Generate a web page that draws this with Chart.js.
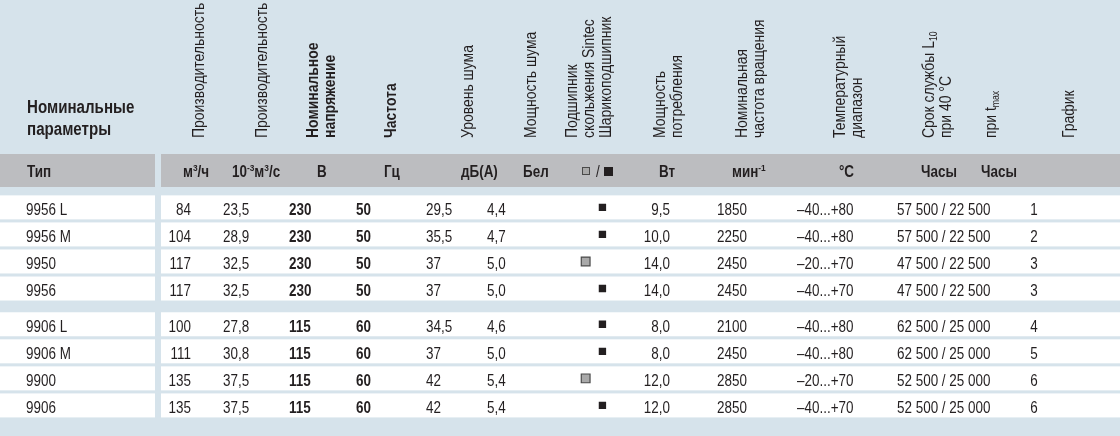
<!DOCTYPE html>
<html>
<head>
<meta charset="utf-8">
<script src="https://cdn.jsdelivr.net/npm/chart.js@4/dist/chart.umd.min.js"></script>
<style>
  html, body { margin: 0; padding: 0; background: #d6e3eb; }
  canvas { display: block; }
</style>
</head>
<body>
<canvas id="table" width="1120" height="436"></canvas>
<script>
'use strict';

// table data
const types = ['9956 L', '9956 M', '9950', '9956', '9906 L', '9906 M', '9900', '9906'];
const flowM3h = [84, 104, 117, 117, 100, 111, 135, 135];
const flowM3s = [23.5, 28.9, 32.5, 32.5, 27.8, 30.8, 37.5, 37.5];
const voltage = [230, 230, 230, 230, 115, 115, 115, 115];
const frequency = [50, 50, 50, 50, 60, 60, 60, 60];
const noiseLevel = [29.5, 35.5, 37, 37, 34.5, 37, 42, 42];
const noisePower = [4.4, 4.7, 5.0, 5.0, 4.6, 5.0, 5.4, 5.4];
const bearing = ['ball', 'ball', 'sleeve', 'ball', 'ball', 'ball', 'sleeve', 'ball'];
const powerW = [9.5, 10.0, 14.0, 14.0, 8.0, 8.0, 12.0, 12.0];
const speed = [1850, 2250, 2450, 2450, 2100, 2450, 2850, 2850];
const tempMin = [-40, -40, -20, -40, -40, -40, -20, -40];
const tempMax = [80, 80, 70, 70, 80, 80, 70, 70];
const life40 = [57500, 57500, 47500, 47500, 62500, 62500, 52500, 52500];
const lifeTmax = [22500, 22500, 22500, 22500, 25000, 25000, 25000, 25000];
const curve = [1, 2, 3, 3, 4, 5, 6, 6];
const groupSize = 4;

// header texts
const titleLines = ['Номинальные', 'параметры'];
const typeLabel = 'Тип';
const headers = [
    { lines: [['Производительность']] },
    { lines: [['Производительность']] },
    { lines: [['Номинальное'], ['напряжение']], bold: true },
    { lines: [['Частота']], bold: true },
    { lines: [['Уровень шума']] },
    { lines: [['Мощность шума']] },
    { lines: [['Подшипник'], ['скольжения Sintec'], ['Шарикоподшипник']] },
    { lines: [['Мощность'], ['потребления']] },
    { lines: [['Номинальная'], ['частота вращения']] },
    { lines: [['Температурный'], ['диапазон']] },
    { lines: [['Срок службы L', { t: '10', sub: true }], ['при 40 °C']] },
    { lines: [['при t', { t: 'max', sub: true }]] },
    { lines: [['График']] },
];
const units = [
    ['м', { t: '3', sup: true }, '/ч'],
    ['10', { t: '-3', sup: true }, 'м', { t: '3', sup: true }, '/с'],
    ['В'], ['Гц'], ['дБ(А)'], ['Бел'], null, ['Вт'],
    ['мин', { t: '-1', sup: true }], ['°C'], ['Часы'], ['Часы'], null,
];

// layout (pixels)
const FONT = '"Liberation Sans", Arial, sans-serif';
const SQUEEZE = 0.84;
const INK = '#231f20';
const BG = '#d6e3eb';
const BAND = '#bcbdc0';
const headX = [204, 267, 318, 396, 473, 536, 577, 665, 747, 845, 934, 996, 1074];
const headBottom = 138;
const headLineGap = 17;
const headSize = 16.6;
const unitX = [183, 232, 317, 384, 461, 523, 581, 659, 732, 839, 921, 981, 0];
const unitBase = 177;
const bandTop = 154, bandBottom = 187;
const splitLeft = 155, splitRight = 161;
const rowHalf = 12;
const textDrop = 7.5;
const groupGap = 9 / 28;
const markX = { sleeve: 586, ball: 603 };

function dec1 (v) { return v.toFixed(1).replace('.', ','); }
function decAuto (v) { return Number.isInteger(v) ? String(v) : dec1(v); }
function thousands (v) { return String(v).replace(/\B(?=(\d{3})+(?!\d))/g, ' '); }
function temp (lo, hi) { return (lo < 0 ? '\u2013' + Math.abs(lo) : lo) + '...+' + hi; }

const columns = [
    { x: 26, align: 'left', text: (i) => types[i] },
    { x: 191, align: 'right', text: (i) => String(flowM3h[i]) },
    { x: 223, align: 'left', text: (i) => dec1(flowM3s[i]) },
    { x: 289, align: 'left', bold: true, text: (i) => String(voltage[i]) },
    { x: 356, align: 'left', bold: true, text: (i) => String(frequency[i]) },
    { x: 426, align: 'left', text: (i) => decAuto(noiseLevel[i]) },
    { x: 487, align: 'left', text: (i) => dec1(noisePower[i]) },
    { x: 670, align: 'right', text: (i) => dec1(powerW[i]) },
    { x: 717, align: 'left', text: (i) => String(speed[i]) },
    { x: 797, align: 'left', text: (i) => temp(tempMin[i], tempMax[i]) },
    { x: 897, align: 'left', text: (i) => thousands(life40[i]) + ' / ' + thousands(lifeTmax[i]) },
    { x: 1034, align: 'center', text: (i) => String(curve[i]) },
];

function rowPos (i) {
    return i + (i >= groupSize ? groupGap : 0);
}

function font (size, bold) {
    return (bold ? 'bold ' : '') + size + 'px ' + FONT;
}

// condensed text: draw regular face squeezed horizontally
function squeezed (ctx, text, x, y, align) {
    ctx.save();
    ctx.translate(x, y);
    ctx.scale(SQUEEZE, 1);
    ctx.textAlign = align || 'left';
    ctx.fillText(text, 0, 0);
    ctx.restore();
}

// draws text made of plain strings and sup / sub pieces, left aligned at x
function drawRich (ctx, parts, x, y, size, bold) {
    let cx = x;
    for (let p of parts) {
        let piece = typeof p === 'string' ? { t: p } : p;
        let s = (piece.sup || piece.sub) ? size * 0.62 : size;
        let dy = piece.sup ? -size * 0.38 : piece.sub ? size * 0.18 : 0;
        ctx.font = font(s, bold);
        squeezed(ctx, piece.t, cx, y + dy, 'left');
        cx += ctx.measureText(piece.t).width * SQUEEZE;
    }
}

const tablePlugin = {
    id: 'tablePlugin',
    beforeDatasetsDraw (chart) {
        let ctx = chart.ctx;
        let yScale = chart.scales.y;
        let w = chart.width, h = chart.height;
        ctx.save();
        ctx.fillStyle = BG;
        ctx.fillRect(0, 0, w, h);

        // grey band with units
        ctx.fillStyle = BAND;
        ctx.fillRect(0, bandTop, splitLeft, bandBottom - bandTop);
        ctx.fillRect(splitRight, bandTop, w - splitRight, bandBottom - bandTop);

        // white rows
        ctx.fillStyle = '#ffffff';
        for (let i = 0; i < types.length; i++) {
            let cy = yScale.getPixelForValue(rowPos(i));
            ctx.fillRect(0, cy - rowHalf, splitLeft, rowHalf * 2);
            ctx.fillRect(splitRight, cy - rowHalf, w - splitRight, rowHalf * 2);
        }

        ctx.fillStyle = INK;
        ctx.textBaseline = 'alphabetic';

        // title
        ctx.font = font(18, true);
        squeezed(ctx, titleLines[0], 27, 113);
        squeezed(ctx, titleLines[1], 27, 135);

        // rotated headers
        for (let c = 0; c < headers.length; c++) {
            let hd = headers[c];
            for (let l = 0; l < hd.lines.length; l++) {
                ctx.save();
                ctx.translate(headX[c] + l * headLineGap, headBottom);
                ctx.rotate(-Math.PI / 2);
                drawRich(ctx, hd.lines[l], 0, 0, headSize, hd.bold);
                ctx.restore();
            }
        }

        // units row
        ctx.font = font(16, true);
        squeezed(ctx, typeLabel, 27, unitBase);
        for (let c = 0; c < units.length; c++) {
            if (units[c]) drawRich(ctx, units[c], unitX[c], unitBase, 16, true);
        }
        // bearing key: sleeve / ball
        let kx = unitX[6];
        ctx.fillStyle = '#a9a9a9';
        ctx.strokeStyle = '#4a4a4a';
        ctx.lineWidth = 1;
        ctx.fillRect(kx + 1, unitBase - 10, 8, 8);
        ctx.strokeRect(kx + 1.5, unitBase - 9.5, 7, 7);
        ctx.fillStyle = INK;
        ctx.font = font(16, false);
        squeezed(ctx, '/', kx + 15, unitBase);
        ctx.fillRect(kx + 23, unitBase - 10, 9, 9);

        // cell values
        for (let i = 0; i < types.length; i++) {
            let cy = yScale.getPixelForValue(rowPos(i));
            for (let col of columns) {
                ctx.font = font(16, col.bold);
                squeezed(ctx, col.text(i), col.x, cy + textDrop, col.align);
            }
        }
        ctx.restore();
    }
};

function markData (kind) {
    let out = [];
    for (let i = 0; i < types.length; i++) {
        if (bearing[i] === kind) out.push({ x: markX[kind], y: rowPos(i) });
    }
    return out;
}

const chart = new Chart(document.getElementById('table'), {
    type: 'scatter',
    data: {
        datasets: [
            {
                label: 'Подшипник скольжения Sintec',
                data: markData('sleeve'),
                pointStyle: 'rect',
                pointRadius: 6.2,
                backgroundColor: '#a9a9a9',
                borderColor: '#4a4a4a',
                borderWidth: 1.2,
            },
            {
                label: 'Шарикоподшипник',
                data: markData('ball'),
                pointStyle: 'rect',
                pointRadius: 5.2,
                backgroundColor: INK,
                borderColor: INK,
                borderWidth: 0,
            },
        ],
    },
    options: {
        responsive: false,
        animation: false,
        devicePixelRatio: 1,
        layout: { padding: 0 },
        events: [],
        plugins: { legend: { display: false }, tooltip: { enabled: false } },
        scales: {
            x: { type: 'linear', min: 0, max: 1120, display: false },
            y: { type: 'linear', min: -207 / 28, max: (436 - 207) / 28, reverse: true, display: false },
        },
    },
    plugins: [tablePlugin],
});
</script>
</body>
</html>
